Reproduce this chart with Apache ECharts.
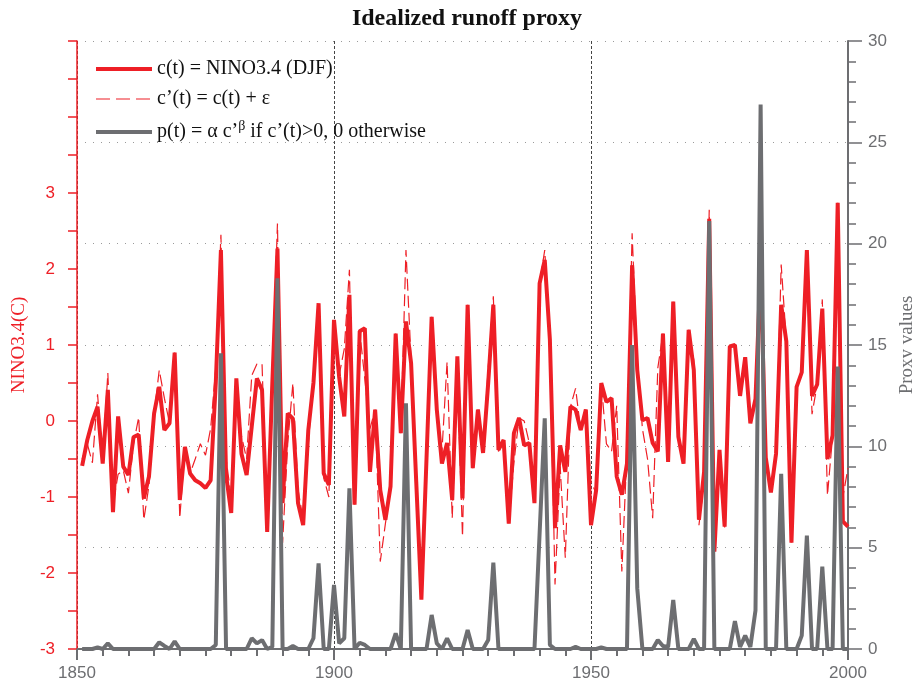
<!DOCTYPE html>
<html><head><meta charset="utf-8">
<script src="https://cdn.jsdelivr.net/npm/echarts@6/dist/echarts.min.js"></script>
<style>html,body{margin:0;padding:0;background:#fff}#c{width:912px;height:689px}</style>
</head><body><div id="c"></div>
<script>
const startYear = 1851;
const cValues = [
-0.59,-0.25,0.0,0.19,-0.56,0.41,-1.2,0.06,-0.6,-0.71,
-0.21,-0.18,-1.02,-0.73,0.1,0.45,-0.12,-0.03,0.9,-1.04,
-0.34,-0.69,-0.78,-0.82,-0.88,-0.78,0.5,2.25,-0.71,-1.21,
0.56,-0.43,-0.71,-0.07,0.56,0.41,-1.46,0.5,2.27,-1.08,
0.1,0.03,-1.08,-1.37,-0.12,0.5,1.55,-0.69,-0.84,1.33,
0.58,0.06,1.66,-1.1,1.18,1.22,-0.67,0.15,-0.91,-1.3,
-0.86,1.15,-0.16,1.31,0.76,-0.8,-2.35,-0.49,1.37,0.15,
-0.56,-0.29,-1.04,0.85,-1.02,1.53,-0.62,0.15,-0.42,0.5,
1.53,-0.38,-0.25,-1.35,-0.16,0.04,-0.32,-0.29,-1.08,1.81,
2.12,1.07,-1.41,-0.32,-0.67,0.19,0.15,-0.12,0.15,-1.37,
-0.91,0.5,0.25,0.3,-0.73,-0.97,-0.56,2.05,0.67,0.01,
0.04,-0.29,-0.4,1.15,-0.54,1.57,-0.21,-0.56,1.2,0.67,
-1.3,-0.67,2.66,-1.72,-0.38,-1.39,0.98,1.0,0.33,0.84,
-0.03,0.29,2.0,-0.48,-0.94,-0.43,1.53,1.05,-1.6,0.45,
0.64,2.25,0.33,0.48,1.48,-0.5,-0.19,2.87,-1.32,-1.39
];
const cNoisyValues = [
-0.5,-0.3,-0.55,0.35,-0.5,0.63,-1.1,-0.7,-0.65,-0.95,
-0.3,0.05,-1.3,-0.85,0.1,0.67,0.3,-0.03,0.9,-1.28,
-0.34,-0.69,-0.5,-0.3,-0.45,-0.1,0.7,2.45,-0.5,-1.0,
0.4,-0.2,-0.5,0.6,0.75,0.75,-1.3,0.6,2.6,-1.6,
-0.3,0.5,-0.9,-1.3,-0.3,0.6,1.5,-0.75,-1.0,1.3,
0.6,0.95,1.99,-1.1,1.18,0.55,-0.1,0.15,-1.85,-1.35,
-0.9,1.15,-0.16,2.25,0.8,-0.8,-2.35,-0.5,1.37,0.15,
-0.4,0.78,-1.28,0.6,-1.52,1.53,-0.62,0.15,-0.4,0.7,
1.64,-0.4,-0.25,-1.35,-0.55,0.04,0.0,-0.29,-1.0,1.81,
2.25,1.07,-2.15,-0.6,-1.8,0.19,0.43,-0.12,0.15,-0.8,
-0.95,0.5,-0.3,-0.4,0.2,-1.98,-0.4,2.47,0.8,-0.1,
-0.5,-1.28,0.7,1.15,-0.54,1.57,-0.21,-0.56,1.2,0.8,
-1.37,-0.8,2.78,-1.5,-0.4,-1.4,1.0,1.0,0.4,0.8,
0.0,0.3,2.3,-0.5,-0.9,-0.45,2.06,1.05,-1.6,0.45,
0.64,2.25,0.09,0.48,1.6,-0.98,-0.2,2.87,-1.0,-0.62
];
const proxyValues = [
0,0,0,0.08,0,0.28,0,0,0,0,
0,0,0,0,0,0.33,0.15,0,0.38,0,
0,0,0,0,0,0,0.2,14.59,0,0,
0,0,0,0.53,0.28,0.44,0,0.1,18.29,0,
0,0.15,0,0,0,0.53,4.23,0,0,3.16,
0.28,0.53,7.93,0,0.31,0.2,0,0,0,0,
0,0.77,0,12.12,0,0,0,0,1.68,0.28,
0,0.53,0,0,0,0.94,0,0,0,0.44,
4.26,0,0,0,0,0,0,0,0,5.7,
11.38,0.2,0,0,0,0,0.1,0,0,0,
0,0.08,0,0,0,0,0,15.0,2.99,0,
0,0,0.44,0.15,0.1,2.42,0,0,0,0.5,
0,0,21.12,0,0,0,0,1.38,0.1,0.66,
0.1,1.9,26.86,0,0,0,8.65,0,0,0,
0.66,5.6,0,0,4.07,0,0,13.94,0,0
];
const leftTickLabels = [-3,-2,-1,0,1,2,3];
const rightTickLabels = [0,5,10,15,20,25,30];
const xTickLabels = [1850,1900,1950,2000];
const seriesNames = ['c(t) = NINO3.4 (DJF)', 'c’(t) = c(t) + ε', 'p(t)'];

const RED = '#ee1f26', GRAY = '#6d6e71';
const pairs = arr => arr.map((v, i) => [startYear + i, v]);

const chart = echarts.init(document.getElementById('c'), null, {renderer: 'canvas'});
chart.setOption({
  animation: false,
  backgroundColor: '#fff',
  title: {
    text: 'Idealized runoff proxy', left: 462, top: 2, textAlign: 'center',
    textStyle: {fontFamily: 'Liberation Serif', fontSize: 24, fontWeight: 'bold', color: '#111'}
  },
  grid: {left: 77, right: 64, top: 41, bottom: 40, containLabel: false, outerBoundsMode: 'none'},
  legend: {
    orient: 'vertical', left: 89, top: 54, itemWidth: 56, itemHeight: 14, itemGap: 10,
    data: [
      {name: seriesNames[0], lineStyle: {width: 4, color: RED}},
      {name: seriesNames[1], lineStyle: {width: 1.2, color: RED, type: [14, 6]}},
      {name: seriesNames[2], lineStyle: {width: 4, color: GRAY}}
    ],
    itemStyle: {opacity: 0},
    formatter: n => n === 'p(t)' ? '{a|p(t) = α c’}{s|β}{a| if c’(t)>0, 0 otherwise}' : '{a|' + n + '}',
    textStyle: {
      rich: {
        a: {fontFamily: 'Liberation Serif', fontSize: 20, color: '#111', lineHeight: 22},
        s: {fontFamily: 'Liberation Serif', fontSize: 14, color: '#111', verticalAlign: 'top', padding: [0, 0, 12, 0]}
      }
    }
  },
  xAxis: {
    type: 'value', min: 1850, max: 2000, interval: 50,
    axisLine: {show: true, onZero: false, lineStyle: {color: GRAY, width: 2}},
    axisTick: {show: true, length: 11, lineStyle: {color: GRAY, width: 2}},
    minorTick: {show: true, splitNumber: 10, length: 7, lineStyle: {color: GRAY, width: 2}},
    axisLabel: {margin: 16, color: GRAY, fontFamily: 'Liberation Sans', fontSize: 17,
      formatter: v => xTickLabels.includes(v) ? String(v) : ''},
    splitLine: {show: true, lineStyle: {color: '#444', width: 1, type: [3, 2]}}
  },
  yAxis: [
    {
      type: 'value', min: -3, max: 5, interval: 0.5, position: 'left',
      name: 'NINO3.4(C)', nameLocation: 'middle', nameGap: 46,
      nameTextStyle: {color: RED, fontFamily: 'Liberation Serif', fontSize: 19},
      axisLine: {show: true, lineStyle: {color: RED, width: 1.5}},
      axisTick: {show: true, length: 9, lineStyle: {color: RED, width: 1.5}},
      axisLabel: {margin: 22, color: RED, fontFamily: 'Liberation Sans', fontSize: 17,
        formatter: v => leftTickLabels.includes(v) ? String(v) : ''},
      splitLine: {show: false}
    },
    {
      type: 'value', min: 0, max: 30, interval: 5, position: 'right',
      name: 'Proxy values', nameLocation: 'middle', nameGap: 44,
      nameTextStyle: {color: GRAY, fontFamily: 'Liberation Serif', fontSize: 19},
      axisLine: {show: true, lineStyle: {color: GRAY, width: 2}},
      axisTick: {show: true, length: 14, lineStyle: {color: GRAY, width: 1.5}},
      minorTick: {show: true, splitNumber: 5, length: 8, lineStyle: {color: GRAY, width: 1.5}},
      axisLabel: {margin: 20, color: GRAY, fontFamily: 'Liberation Sans', fontSize: 17,
        formatter: v => rightTickLabels.includes(v) ? String(v) : ''},
      splitLine: {show: true, lineStyle: {color: '#9a9a9a', width: 1, type: [1, 7]}}
    }
  ],
  series: [
    {name: seriesNames[0], type: 'line', yAxisIndex: 0, data: pairs(cValues), symbol: 'none', z: 2,
      lineStyle: {color: RED, width: 4}, itemStyle: {color: RED}},
    {name: seriesNames[1], type: 'line', yAxisIndex: 0, data: pairs(cNoisyValues), symbol: 'none', z: 3,
      lineStyle: {color: RED, width: 1.2, type: [12, 5]}, itemStyle: {color: RED}},
    {name: seriesNames[2], type: 'line', yAxisIndex: 1, data: pairs(proxyValues), symbol: 'none', z: 4,
      lineStyle: {color: GRAY, width: 4}, itemStyle: {color: GRAY}}
  ]
});
</script></body></html>
